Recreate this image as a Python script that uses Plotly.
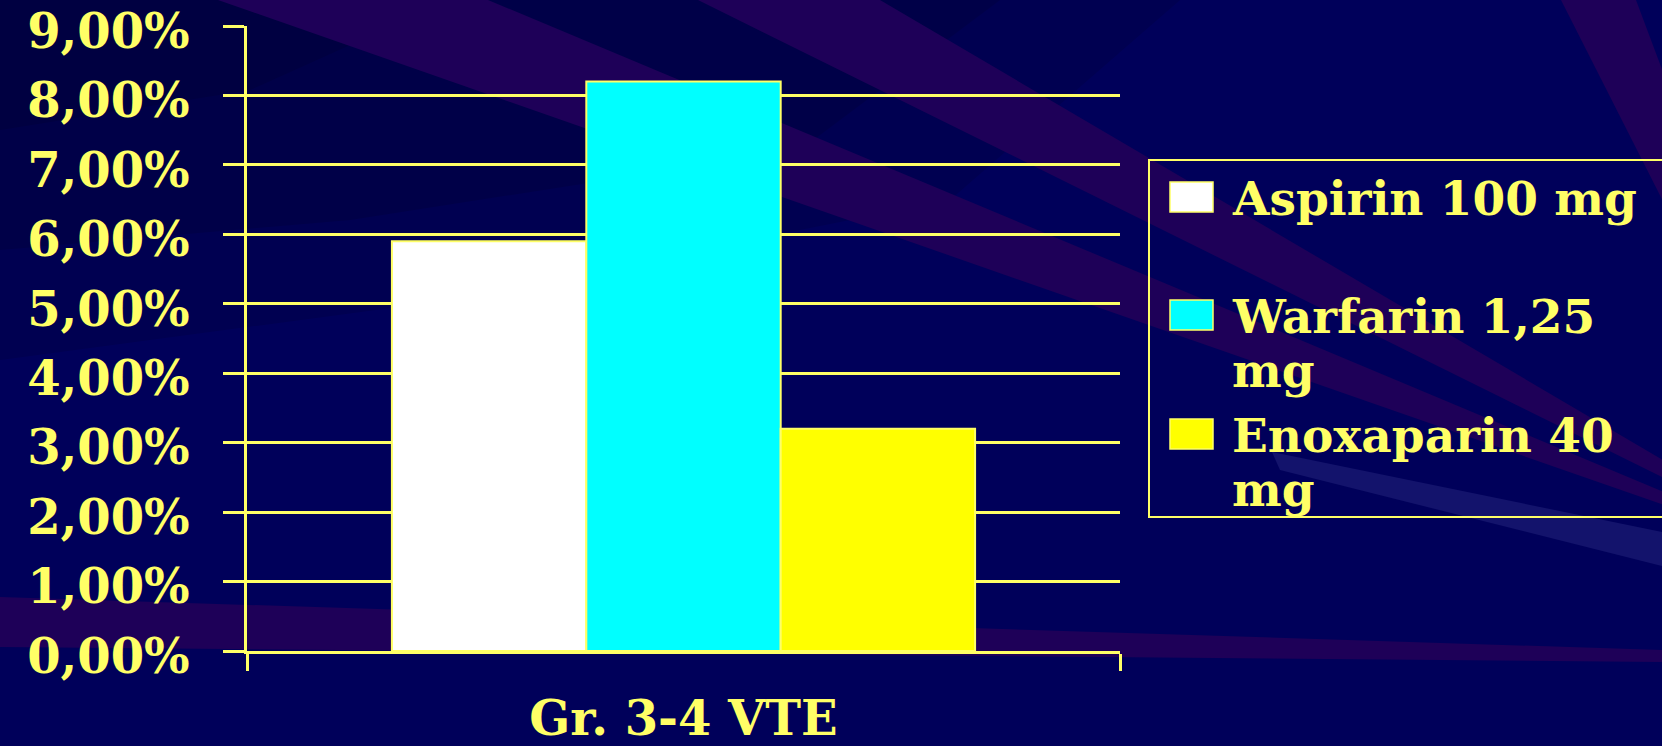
import plotly.graph_objects as go

# Page geometry (pixels)
W, H = 1662, 746
L, R, T, B = 247, 542, 26, 95
PW, PH = W - L - R, H - T - B

# Data
category = ["Gr. 3-4 VTE"]
series_names = ["Aspirin 100 mg", "Warfarin 1,25 mg", "Enoxaparin 40 mg"]
legend_labels = ["Aspirin 100 mg", "Warfarin 1,25<br>mg", "Enoxaparin 40<br>mg"]
values = [5.9, 8.2, 3.2]  # percent
bar_colors = ["#FFFFFF", "#00FFFF", "#FFFF00"]

TEXT = "#FFFF66"
NAVY = "#00005A"
PURPLE = "#1E0058"
FONT = "DejaVu Serif"


def px(x):
    return (x - L) / PW


def py(y):
    return (H - B - y) / PH


def path(points):
    pts = [f"{px(x):.5f},{py(y):.5f}" for x, y in points]
    return "M" + " L".join(pts) + " Z"


fig = go.Figure()
for name, val, col in zip(series_names, values, bar_colors):
    fig.add_trace(go.Bar(
        x=category, y=[val], name=name,
        marker=dict(color=col, line=dict(color=TEXT, width=2)),
        showlegend=False,
    ))

# spotlight beams fanning out from a source beyond the right edge
SRC = (1850, 570)
shapes = []
backdrop = [
    ([(0, 0), (1180, 0), (950, 200), (450, 300), (0, 360)], "rgba(0,0,20,0.12)"),
    ([(0, 0), (1000, 0), (800, 150), (350, 220), (0, 250)], "rgba(0,0,20,0.14)"),
    ([(0, 0), (450, 0), (250, 90), (0, 130)], "rgba(0,0,20,0.12)"),
    ([(218, 0), (488, 0), SRC], PURPLE),
    ([(698, 0), (880, 0), SRC], PURPLE),
    ([(1561, 0), (1636, 0), SRC], PURPLE),
    ([(1272, 452), (1662, 532), (1662, 566), (1280, 470)], "#13136C"),
    ([(0, 597), (1662, 650), (1662, 662), (0, 647)], PURPLE),
]
for pts, col in backdrop:
    shapes.append(dict(type="path", path=path(pts), xref="paper", yref="paper",
                       fillcolor=col, line=dict(width=0), layer="below"))

# legend frame
shapes.append(dict(type="rect", xref="paper", yref="paper",
                   x0=px(1149), x1=px(1672), y0=py(517), y1=py(160),
                   line=dict(color=TEXT, width=2), fillcolor="rgba(0,0,0,0)"))

annotations = []
LEG_SIZE = 47
swatch_tops = [182, 300, 419]
baselines = [214, 332, 451]
line_step = 54
for lab, col, top, base in zip(legend_labels, bar_colors, swatch_tops, baselines):
    shapes.append(dict(type="rect", xref="paper", yref="paper",
                       x0=px(1170), x1=px(1213), y0=py(top + 30), y1=py(top),
                       line=dict(color=TEXT, width=1.5), fillcolor=col))
    for i, line in enumerate(lab.split("<br>")):
        annotations.append(dict(
            text=line, xref="paper", yref="paper",
            x=px(1230), y=py(base + i * line_step - 0.955 * LEG_SIZE),
            xanchor="left", yanchor="top", align="left", showarrow=False,
            font=dict(family=FONT, size=LEG_SIZE, color=TEXT, weight="bold"),
        ))

fig.update_layout(
    width=W, height=H,
    margin=dict(l=L, r=R, t=T, b=B, pad=0, autoexpand=False),
    paper_bgcolor=NAVY,
    plot_bgcolor="rgba(0,0,0,0)",
    separators=", ",
    barmode="group",
    bargap=0.332,
    bargroupgap=0,
    shapes=shapes,
    annotations=annotations,
    xaxis=dict(
        automargin=False,
        showline=True, linecolor=TEXT, linewidth=2.5,
        ticks="outside", tickson="boundaries", ticklen=17, tickwidth=2.5,
        tickcolor=TEXT, showgrid=False, ticklabelstandoff=24,
        ticklabeloverflow="allow",
        tickfont=dict(family=FONT, size=48, color=TEXT, weight="bold"),
    ),
    yaxis=dict(
        automargin=False,
        range=[0, 9], dtick=1, tick0=0, tickformat=".2f", ticksuffix="%",
        showline=True, linecolor=TEXT, linewidth=2.5,
        ticks="outside", ticklen=21, tickwidth=2.5, tickcolor=TEXT,
        showgrid=True, gridcolor=TEXT, gridwidth=2.5,
        zeroline=False, ticklabelstandoff=24, ticklabelshift=5,
        ticklabeloverflow="allow",
        tickfont=dict(family=FONT, size=48, color=TEXT, weight="bold"),
    ),
)

fig.write_html("out.html")
